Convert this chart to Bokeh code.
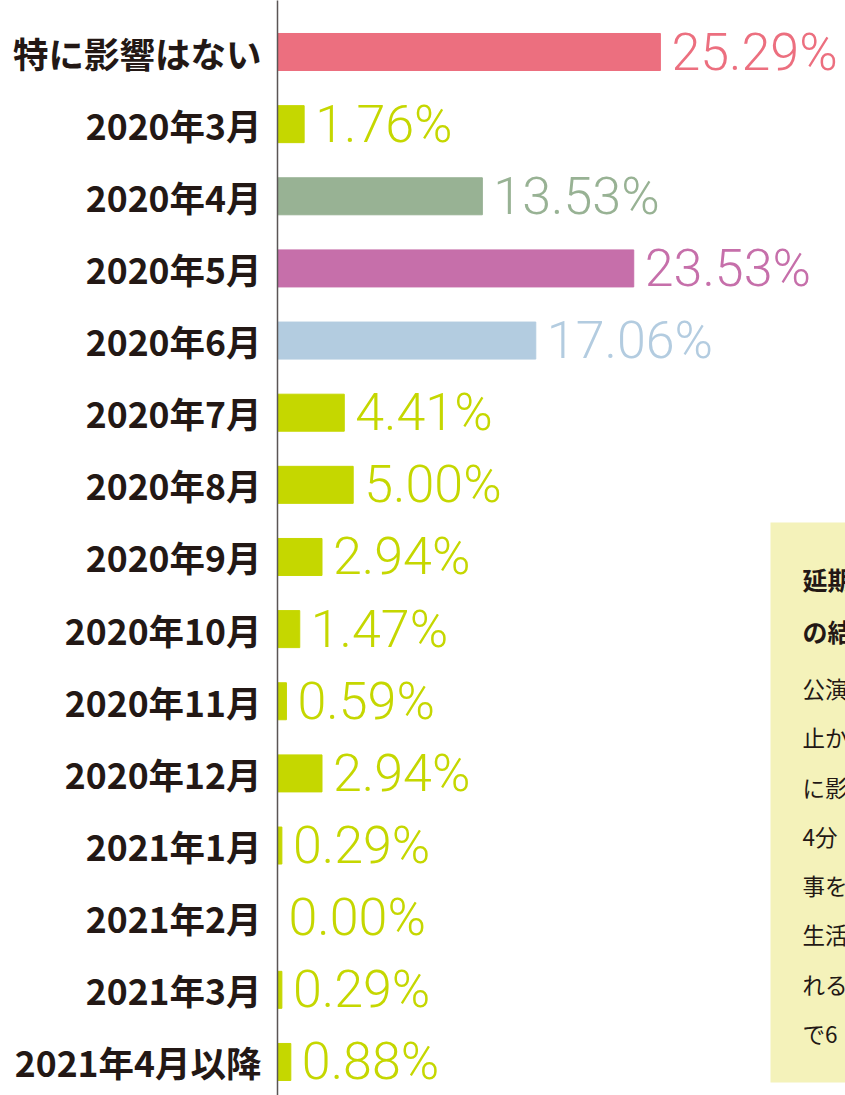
from bokeh.plotting import figure
from bokeh.models import Range1d, FixedTicker, ColumnDataSource
from bokeh.core.properties import value
from bokeh.embed import file_html
from bokeh.resources import INLINE

categories = ["特に影響はない", "2020年3月", "2020年4月", "2020年5月", "2020年6月",
              "2020年7月", "2020年8月", "2020年9月", "2020年10月", "2020年11月",
              "2020年12月", "2021年1月", "2021年2月", "2021年3月", "2021年4月以降"]
values = [25.29, 1.76, 13.53, 23.53, 17.06, 4.41, 5.00, 2.94, 1.47, 0.59,
          2.94, 0.29, 0.00, 0.29, 0.88]
PINK, LIME, SAGE, MAGENTA, SKY = "#ec6f7f", "#c5d700", "#98b294", "#c66faa", "#b3cce0"
colors = [PINK, LIME, SAGE, MAGENTA, SKY] + [LIME] * 10
box_lines_bold = ["延期", "の結"]
box_lines = ["公演", "止か", "に影", "4分", "事を", "生活", "れる", "で6"]

idx = list(range(len(categories)))
src = ColumnDataSource(dict(y=idx, v=values, c=colors,
                            lab=[f"{v:.2f}%" for v in values]))

PX_PER_UNIT = 15.14
ROW = 72.14
Y0 = 51.5
FIG_W, FIG_H, LEFT = 845, 1095, 277
frame_w = FIG_W - LEFT
y_top = (0 - Y0) / ROW
y_bot = (FIG_H - Y0) / ROW

p = figure(width=FIG_W, height=FIG_H, output_backend="svg", toolbar_location=None,
           x_range=Range1d(0, frame_w / PX_PER_UNIT), y_range=Range1d(y_bot, y_top),
           min_border_left=LEFT, min_border_right=0, min_border_top=0, min_border_bottom=0)
p.outline_line_color = None
p.grid.visible = False
p.xaxis.visible = False
p.background_fill_color = "white"

ax = p.yaxis[0]
ax.ticker = FixedTicker(ticks=idx)
ax.major_label_overrides = {i: c for i, c in zip(idx, categories)}
ax.major_label_text_font = "Noto Sans CJK JP"
ax.major_label_text_font_style = "bold"
ax.major_label_text_font_size = "35.5px"
ax.major_label_text_color = "#231815"
ax.major_label_standoff = 10
ax.major_tick_line_color = None
ax.minor_tick_line_color = None
ax.axis_line_color = "#5a5555"
ax.axis_line_width = 1.5

p.hbar(y="y", left=0, right="v", height=0.513, color="c", source=src)
p.text(x="v", y="y", text="lab", text_color="c", source=src, x_offset=11,
       text_baseline="middle", text_align="left", text_font_size="52px",
       text_font=value("Roboto Light, Liberation Sans"))

# side note box (cut off by the right edge, as in the original layout)
def ypx(py):
    return (py - Y0) / ROW

bx0 = (770 - LEFT) / PX_PER_UNIT
p.quad(left=bx0, right=bx0 + 10, top=ypx(522), bottom=ypx(1082),
       fill_color="#f4f2ba", line_color=None)
tx = (802 - LEFT) / PX_PER_UNIT
ys_bold = [ypx(y) for y in [578, 630]]
ys_body = [ypx(y) for y in [687, 736, 786, 835, 884, 933, 983, 1032]]
p.text(x=[tx] * 2, y=ys_bold, text=box_lines_bold, text_baseline="middle",
       text_font=value("Noto Sans CJK JP"), text_font_style="bold",
       text_font_size="25px", text_color="#231815")
p.text(x=[tx] * len(box_lines), y=ys_body, text=box_lines, text_baseline="middle",
       text_font=value("Noto Sans CJK JP"), text_font_size="22.5px", text_color="#231815")

open("out.html", "w").write(file_html(p, INLINE))
